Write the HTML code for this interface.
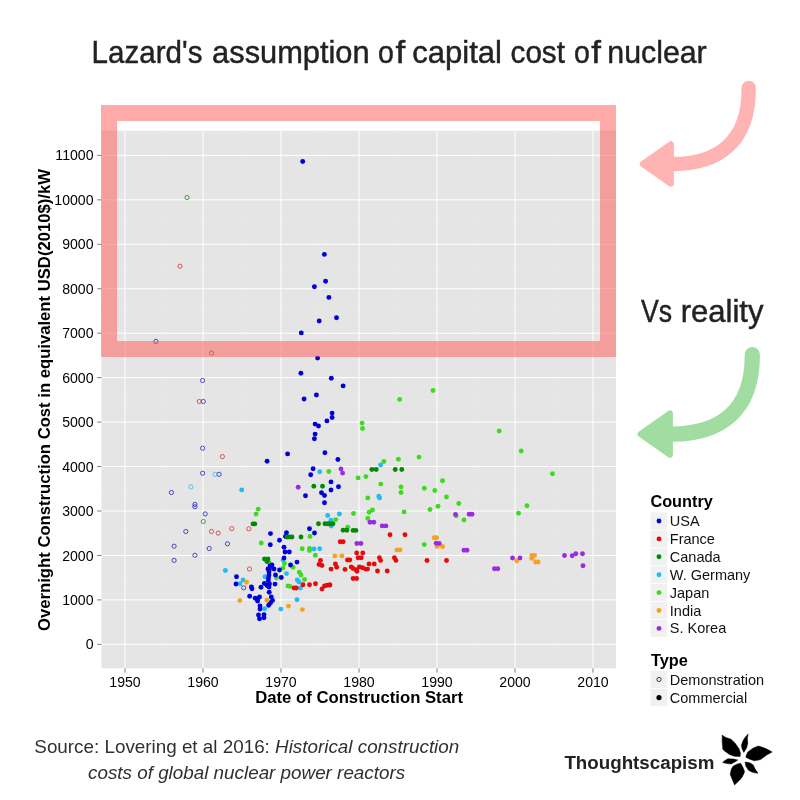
<!DOCTYPE html>
<html><head><meta charset="utf-8"><title>Nuclear capital cost</title>
<style>
html,body{margin:0;padding:0;background:#fff;}
body{width:800px;height:800px;overflow:hidden;font-family:"Liberation Sans",sans-serif;}
svg{display:block;will-change:transform;}
text{font-family:"Liberation Sans",sans-serif;}
</style></head><body>
<svg width="800" height="800" viewBox="0 0 800 800">
<rect width="800" height="800" fill="#fff"/>
<g fill="#222" stroke="#222" stroke-width="0.45" font-size="31.5">
<text transform="translate(91.62,63.2) scale(0.9391,1)">Lazard&#39;s</text>
<text transform="translate(212.12,63.2) scale(0.9781,1)">assumption</text>
<text transform="translate(378.09,63.2) scale(0.9062,1)">o</text>
<text transform="translate(395.40,63.2) scale(1.1111,1)">f</text>
<text transform="translate(412.21,63.2) scale(0.9857,1)">capital</text>
<text transform="translate(510.56,63.2) scale(0.9418,1)">cost</text>
<text transform="translate(573.89,63.2) scale(0.9062,1)">o</text>
<text transform="translate(591.20,63.2) scale(1.1111,1)">f</text>
<text transform="translate(607.27,63.2) scale(0.9631,1)">nuclear</text>
<text transform="translate(640.90,322.3) scale(0.8470,1)">Vs</text>
<text transform="translate(680.63,322.3) scale(0.9869,1)">reality</text>
</g>
<rect x="101.5" y="130.8" width="514.5" height="537.5" fill="#E5E5E5"/>
<g stroke="#E8E8E8" stroke-width="0.6">
<line x1="164.00" x2="164.00" y1="130.8" y2="668.3"/>
<line x1="242.00" x2="242.00" y1="130.8" y2="668.3"/>
<line x1="320.00" x2="320.00" y1="130.8" y2="668.3"/>
<line x1="398.00" x2="398.00" y1="130.8" y2="668.3"/>
<line x1="476.00" x2="476.00" y1="130.8" y2="668.3"/>
<line x1="554.00" x2="554.00" y1="130.8" y2="668.3"/>
<line x1="101.5" x2="616" y1="622.12" y2="622.12"/>
<line x1="101.5" x2="616" y1="577.67" y2="577.67"/>
<line x1="101.5" x2="616" y1="533.23" y2="533.23"/>
<line x1="101.5" x2="616" y1="488.77" y2="488.77"/>
<line x1="101.5" x2="616" y1="444.33" y2="444.33"/>
<line x1="101.5" x2="616" y1="399.88" y2="399.88"/>
<line x1="101.5" x2="616" y1="355.43" y2="355.43"/>
<line x1="101.5" x2="616" y1="310.98" y2="310.98"/>
<line x1="101.5" x2="616" y1="266.52" y2="266.52"/>
<line x1="101.5" x2="616" y1="222.07" y2="222.07"/>
<line x1="101.5" x2="616" y1="177.62" y2="177.62"/>
<line x1="101.5" x2="616" y1="133.18" y2="133.18"/>
</g>
<g stroke="#FFFFFF" stroke-width="1.0">
<line x1="125.00" x2="125.00" y1="130.8" y2="668.3"/>
<line x1="203.00" x2="203.00" y1="130.8" y2="668.3"/>
<line x1="281.00" x2="281.00" y1="130.8" y2="668.3"/>
<line x1="359.00" x2="359.00" y1="130.8" y2="668.3"/>
<line x1="437.00" x2="437.00" y1="130.8" y2="668.3"/>
<line x1="515.00" x2="515.00" y1="130.8" y2="668.3"/>
<line x1="593.00" x2="593.00" y1="130.8" y2="668.3"/>
<line x1="101.5" x2="616" y1="644.35" y2="644.35"/>
<line x1="101.5" x2="616" y1="599.90" y2="599.90"/>
<line x1="101.5" x2="616" y1="555.45" y2="555.45"/>
<line x1="101.5" x2="616" y1="511.00" y2="511.00"/>
<line x1="101.5" x2="616" y1="466.55" y2="466.55"/>
<line x1="101.5" x2="616" y1="422.10" y2="422.10"/>
<line x1="101.5" x2="616" y1="377.65" y2="377.65"/>
<line x1="101.5" x2="616" y1="333.20" y2="333.20"/>
<line x1="101.5" x2="616" y1="288.75" y2="288.75"/>
<line x1="101.5" x2="616" y1="244.30" y2="244.30"/>
<line x1="101.5" x2="616" y1="199.85" y2="199.85"/>
<line x1="101.5" x2="616" y1="155.40" y2="155.40"/>
</g>
<g stroke="#666" stroke-width="0.85">
<line x1="125.00" x2="125.00" y1="668.3" y2="672.5999999999999"/>
<line x1="203.00" x2="203.00" y1="668.3" y2="672.5999999999999"/>
<line x1="281.00" x2="281.00" y1="668.3" y2="672.5999999999999"/>
<line x1="359.00" x2="359.00" y1="668.3" y2="672.5999999999999"/>
<line x1="437.00" x2="437.00" y1="668.3" y2="672.5999999999999"/>
<line x1="515.00" x2="515.00" y1="668.3" y2="672.5999999999999"/>
<line x1="593.00" x2="593.00" y1="668.3" y2="672.5999999999999"/>
<line x1="97.2" x2="101.5" y1="644.35" y2="644.35"/>
<line x1="97.2" x2="101.5" y1="599.90" y2="599.90"/>
<line x1="97.2" x2="101.5" y1="555.45" y2="555.45"/>
<line x1="97.2" x2="101.5" y1="511.00" y2="511.00"/>
<line x1="97.2" x2="101.5" y1="466.55" y2="466.55"/>
<line x1="97.2" x2="101.5" y1="422.10" y2="422.10"/>
<line x1="97.2" x2="101.5" y1="377.65" y2="377.65"/>
<line x1="97.2" x2="101.5" y1="333.20" y2="333.20"/>
<line x1="97.2" x2="101.5" y1="288.75" y2="288.75"/>
<line x1="97.2" x2="101.5" y1="244.30" y2="244.30"/>
<line x1="97.2" x2="101.5" y1="199.85" y2="199.85"/>
<line x1="97.2" x2="101.5" y1="155.40" y2="155.40"/>
</g>
<g fill="#000" font-size="14.1">
<text x="125.00" y="686.6" text-anchor="middle">1950</text>
<text x="203.00" y="686.6" text-anchor="middle">1960</text>
<text x="281.00" y="686.6" text-anchor="middle">1970</text>
<text x="359.00" y="686.6" text-anchor="middle">1980</text>
<text x="437.00" y="686.6" text-anchor="middle">1990</text>
<text x="515.00" y="686.6" text-anchor="middle">2000</text>
<text x="593.00" y="686.6" text-anchor="middle">2010</text>
<text x="93.5" y="649.40" text-anchor="end">0</text>
<text x="93.5" y="604.95" text-anchor="end">1000</text>
<text x="93.5" y="560.50" text-anchor="end">2000</text>
<text x="93.5" y="516.05" text-anchor="end">3000</text>
<text x="93.5" y="471.60" text-anchor="end">4000</text>
<text x="93.5" y="427.15" text-anchor="end">5000</text>
<text x="93.5" y="382.70" text-anchor="end">6000</text>
<text x="93.5" y="338.25" text-anchor="end">7000</text>
<text x="93.5" y="293.80" text-anchor="end">8000</text>
<text x="93.5" y="249.35" text-anchor="end">9000</text>
<text x="93.5" y="204.90" text-anchor="end">10000</text>
<text x="93.5" y="160.45" text-anchor="end">11000</text>
</g>
<text x="359.1" y="702.6" text-anchor="middle" font-size="16.72" font-weight="bold" fill="#000">Date of Construction Start</text>
<text transform="translate(50.4,400.0) rotate(-90)" text-anchor="middle" font-size="16.67" font-weight="bold" fill="#000">Overnight Construction Cost in equivalent USD(2010$)/kW</text>
<g stroke="none">
<g fill="#3DDA1F">
<circle cx="258.2" cy="509.1" r="2.45"/>
<circle cx="256.1" cy="514.0" r="2.45"/>
<circle cx="261.3" cy="543.0" r="2.45"/>
<circle cx="269.0" cy="562.5" r="2.45"/>
<circle cx="276.5" cy="577.7" r="2.45"/>
<circle cx="284.5" cy="563.5" r="2.45"/>
<circle cx="283.0" cy="568.0" r="2.45"/>
<circle cx="293.0" cy="567.2" r="2.45"/>
<circle cx="299.3" cy="572.3" r="2.45"/>
<circle cx="301.0" cy="575.0" r="2.45"/>
<circle cx="304.5" cy="579.5" r="2.45"/>
<circle cx="288.0" cy="585.9" r="2.45"/>
<circle cx="290.0" cy="586.4" r="2.45"/>
<circle cx="399.6" cy="399.4" r="2.45"/>
<circle cx="362.1" cy="423.1" r="2.45"/>
<circle cx="362.5" cy="428.5" r="2.45"/>
<circle cx="419.0" cy="457.1" r="2.45"/>
<circle cx="398.4" cy="459.2" r="2.45"/>
<circle cx="383.9" cy="461.5" r="2.45"/>
<circle cx="328.8" cy="471.5" r="2.45"/>
<circle cx="358.1" cy="477.9" r="2.45"/>
<circle cx="365.9" cy="476.6" r="2.45"/>
<circle cx="380.8" cy="484.1" r="2.45"/>
<circle cx="401.0" cy="486.9" r="2.45"/>
<circle cx="401.0" cy="492.5" r="2.45"/>
<circle cx="424.3" cy="488.3" r="2.45"/>
<circle cx="367.8" cy="497.9" r="2.45"/>
<circle cx="372.5" cy="510.0" r="2.45"/>
<circle cx="369.1" cy="512.2" r="2.45"/>
<circle cx="367.8" cy="518.5" r="2.45"/>
<circle cx="404.1" cy="511.9" r="2.45"/>
<circle cx="430.0" cy="509.5" r="2.45"/>
<circle cx="353.5" cy="513.5" r="2.45"/>
<circle cx="335.8" cy="519.6" r="2.45"/>
<circle cx="347.7" cy="527.3" r="2.45"/>
<circle cx="310.0" cy="536.5" r="2.45"/>
<circle cx="302.2" cy="548.8" r="2.45"/>
<circle cx="309.5" cy="548.5" r="2.45"/>
<circle cx="309.5" cy="550.5" r="2.45"/>
<circle cx="315.3" cy="555.3" r="2.45"/>
<circle cx="433.0" cy="390.5" r="2.45"/>
<circle cx="499.2" cy="431.0" r="2.45"/>
<circle cx="521.2" cy="451.0" r="2.45"/>
<circle cx="552.5" cy="473.8" r="2.45"/>
<circle cx="442.5" cy="480.8" r="2.45"/>
<circle cx="434.8" cy="490.5" r="2.45"/>
<circle cx="446.5" cy="497.0" r="2.45"/>
<circle cx="458.8" cy="503.5" r="2.45"/>
<circle cx="438.0" cy="506.2" r="2.45"/>
<circle cx="527.0" cy="505.8" r="2.45"/>
<circle cx="518.5" cy="513.2" r="2.45"/>
<circle cx="464.0" cy="520.0" r="2.45"/>
<circle cx="456.2" cy="515.8" r="2.45"/>
<circle cx="424.3" cy="544.6" r="2.45"/>
</g>
<g fill="#1FBDF0">
<circle cx="241.7" cy="489.9" r="2.45"/>
<circle cx="225.4" cy="570.5" r="2.45"/>
<circle cx="243.0" cy="580.0" r="2.45"/>
<circle cx="240.0" cy="583.7" r="2.45"/>
<circle cx="264.6" cy="608.8" r="2.45"/>
<circle cx="265.0" cy="576.8" r="2.45"/>
<circle cx="283.0" cy="560.0" r="2.45"/>
<circle cx="286.5" cy="573.6" r="2.45"/>
<circle cx="297.3" cy="580.0" r="2.45"/>
<circle cx="299.0" cy="582.0" r="2.45"/>
<circle cx="297.0" cy="599.8" r="2.45"/>
<circle cx="280.8" cy="609.1" r="2.45"/>
<circle cx="380.6" cy="465.0" r="2.45"/>
<circle cx="319.7" cy="471.7" r="2.45"/>
<circle cx="378.8" cy="496.2" r="2.45"/>
<circle cx="379.6" cy="498.1" r="2.45"/>
<circle cx="339.4" cy="514.0" r="2.45"/>
<circle cx="327.7" cy="515.5" r="2.45"/>
<circle cx="331.0" cy="520.3" r="2.45"/>
<circle cx="331.2" cy="526.1" r="2.45"/>
<circle cx="314.0" cy="549.0" r="2.45"/>
<circle cx="319.7" cy="548.7" r="2.45"/>
<circle cx="300.4" cy="588.0" r="2.45"/>
</g>
<g fill="#0000DA">
<circle cx="302.7" cy="161.5" r="2.45"/>
<circle cx="324.4" cy="254.4" r="2.45"/>
<circle cx="325.6" cy="281.3" r="2.45"/>
<circle cx="314.4" cy="286.7" r="2.45"/>
<circle cx="328.9" cy="297.4" r="2.45"/>
<circle cx="336.5" cy="317.7" r="2.45"/>
<circle cx="319.2" cy="321.0" r="2.45"/>
<circle cx="301.3" cy="332.9" r="2.45"/>
<circle cx="317.6" cy="358.1" r="2.45"/>
<circle cx="300.9" cy="373.3" r="2.45"/>
<circle cx="331.3" cy="378.2" r="2.45"/>
<circle cx="343.1" cy="385.9" r="2.45"/>
<circle cx="316.4" cy="395.0" r="2.45"/>
<circle cx="304.1" cy="399.0" r="2.45"/>
<circle cx="332.1" cy="413.1" r="2.45"/>
<circle cx="332.1" cy="417.5" r="2.45"/>
<circle cx="326.9" cy="420.9" r="2.45"/>
<circle cx="315.1" cy="424.1" r="2.45"/>
<circle cx="318.5" cy="426.0" r="2.45"/>
<circle cx="315.1" cy="434.1" r="2.45"/>
<circle cx="314.4" cy="438.8" r="2.45"/>
<circle cx="287.6" cy="453.9" r="2.45"/>
<circle cx="324.9" cy="452.8" r="2.45"/>
<circle cx="267.1" cy="461.3" r="2.45"/>
<circle cx="337.9" cy="459.5" r="2.45"/>
<circle cx="313.1" cy="468.7" r="2.45"/>
<circle cx="310.7" cy="474.8" r="2.45"/>
<circle cx="331.0" cy="481.9" r="2.45"/>
<circle cx="338.5" cy="486.7" r="2.45"/>
<circle cx="331.0" cy="490.0" r="2.45"/>
<circle cx="305.5" cy="495.7" r="2.45"/>
<circle cx="321.5" cy="492.8" r="2.45"/>
<circle cx="324.5" cy="495.5" r="2.45"/>
<circle cx="324.5" cy="502.7" r="2.45"/>
<circle cx="309.5" cy="528.8" r="2.45"/>
<circle cx="286.5" cy="532.8" r="2.45"/>
<circle cx="314.5" cy="533.0" r="2.45"/>
<circle cx="270.5" cy="533.6" r="2.45"/>
<circle cx="285.5" cy="536.5" r="2.45"/>
<circle cx="279.5" cy="540.2" r="2.45"/>
<circle cx="270.3" cy="544.8" r="2.45"/>
<circle cx="284.0" cy="547.2" r="2.45"/>
<circle cx="285.0" cy="552.0" r="2.45"/>
<circle cx="289.3" cy="552.0" r="2.45"/>
<circle cx="284.0" cy="558.0" r="2.45"/>
<circle cx="290.5" cy="565.0" r="2.45"/>
<circle cx="297.0" cy="562.1" r="2.45"/>
<circle cx="236.5" cy="576.8" r="2.45"/>
<circle cx="236.0" cy="584.0" r="2.45"/>
<circle cx="251.4" cy="586.9" r="2.45"/>
<circle cx="252.0" cy="588.7" r="2.45"/>
<circle cx="249.7" cy="596.2" r="2.45"/>
<circle cx="255.2" cy="598.2" r="2.45"/>
<circle cx="257.6" cy="599.1" r="2.45"/>
<circle cx="259.5" cy="597.0" r="2.45"/>
<circle cx="257.6" cy="601.0" r="2.45"/>
<circle cx="260.0" cy="606.0" r="2.45"/>
<circle cx="260.0" cy="609.0" r="2.45"/>
<circle cx="258.5" cy="615.0" r="2.45"/>
<circle cx="264.0" cy="614.6" r="2.45"/>
<circle cx="259.5" cy="618.8" r="2.45"/>
<circle cx="264.0" cy="617.8" r="2.45"/>
<circle cx="269.2" cy="592.3" r="2.45"/>
<circle cx="271.3" cy="597.0" r="2.45"/>
<circle cx="272.5" cy="600.4" r="2.45"/>
<circle cx="270.6" cy="602.8" r="2.45"/>
<circle cx="268.7" cy="605.3" r="2.45"/>
<circle cx="261.0" cy="587.3" r="2.45"/>
<circle cx="264.4" cy="583.5" r="2.45"/>
<circle cx="267.0" cy="585.5" r="2.45"/>
<circle cx="269.5" cy="583.9" r="2.45"/>
<circle cx="269.0" cy="587.0" r="2.45"/>
<circle cx="275.0" cy="584.1" r="2.45"/>
<circle cx="270.0" cy="566.0" r="2.45"/>
<circle cx="269.5" cy="569.0" r="2.45"/>
<circle cx="269.0" cy="572.0" r="2.45"/>
<circle cx="269.0" cy="575.0" r="2.45"/>
<circle cx="268.5" cy="578.0" r="2.45"/>
<circle cx="268.3" cy="580.8" r="2.45"/>
<circle cx="272.0" cy="565.0" r="2.45"/>
<circle cx="274.0" cy="569.0" r="2.45"/>
<circle cx="268.0" cy="569.0" r="2.45"/>
<circle cx="275.5" cy="575.0" r="2.45"/>
<circle cx="281.3" cy="577.5" r="2.45"/>
<circle cx="279.5" cy="570.0" r="2.45"/>
</g>
<g fill="#008B00">
<circle cx="371.9" cy="469.5" r="2.45"/>
<circle cx="376.2" cy="469.5" r="2.45"/>
<circle cx="395.2" cy="469.5" r="2.45"/>
<circle cx="401.8" cy="469.5" r="2.45"/>
<circle cx="313.8" cy="486.3" r="2.45"/>
<circle cx="322.5" cy="486.3" r="2.45"/>
<circle cx="318.5" cy="523.8" r="2.45"/>
<circle cx="325.0" cy="523.8" r="2.45"/>
<circle cx="328.0" cy="523.8" r="2.45"/>
<circle cx="330.5" cy="523.8" r="2.45"/>
<circle cx="333.0" cy="523.8" r="2.45"/>
<circle cx="343.1" cy="530.3" r="2.45"/>
<circle cx="346.8" cy="530.3" r="2.45"/>
<circle cx="353.1" cy="530.4" r="2.45"/>
<circle cx="355.9" cy="530.4" r="2.45"/>
<circle cx="253.0" cy="523.9" r="2.45"/>
<circle cx="254.8" cy="523.9" r="2.45"/>
<circle cx="287.0" cy="537.0" r="2.45"/>
<circle cx="289.5" cy="537.0" r="2.45"/>
<circle cx="292.0" cy="537.0" r="2.45"/>
<circle cx="301.0" cy="537.0" r="2.45"/>
<circle cx="264.5" cy="559.0" r="2.45"/>
<circle cx="268.0" cy="559.0" r="2.45"/>
<circle cx="267.0" cy="561.5" r="2.45"/>
</g>
<g fill="#E60A0A">
<circle cx="390.0" cy="534.7" r="2.45"/>
<circle cx="405.0" cy="534.7" r="2.45"/>
<circle cx="340.2" cy="541.7" r="2.45"/>
<circle cx="343.1" cy="541.7" r="2.45"/>
<circle cx="356.7" cy="553.0" r="2.45"/>
<circle cx="362.8" cy="553.0" r="2.45"/>
<circle cx="358.1" cy="557.8" r="2.45"/>
<circle cx="361.2" cy="557.8" r="2.45"/>
<circle cx="347.5" cy="560.0" r="2.45"/>
<circle cx="349.8" cy="560.0" r="2.45"/>
<circle cx="379.4" cy="557.8" r="2.45"/>
<circle cx="380.6" cy="560.4" r="2.45"/>
<circle cx="394.4" cy="557.8" r="2.45"/>
<circle cx="395.9" cy="560.4" r="2.45"/>
<circle cx="427.0" cy="560.5" r="2.45"/>
<circle cx="446.5" cy="560.5" r="2.45"/>
<circle cx="335.4" cy="564.0" r="2.45"/>
<circle cx="336.7" cy="567.3" r="2.45"/>
<circle cx="331.0" cy="569.1" r="2.45"/>
<circle cx="369.0" cy="564.0" r="2.45"/>
<circle cx="374.2" cy="564.0" r="2.45"/>
<circle cx="345.0" cy="569.4" r="2.45"/>
<circle cx="351.2" cy="566.9" r="2.45"/>
<circle cx="353.1" cy="568.5" r="2.45"/>
<circle cx="356.2" cy="569.8" r="2.45"/>
<circle cx="359.4" cy="566.9" r="2.45"/>
<circle cx="362.5" cy="567.8" r="2.45"/>
<circle cx="365.6" cy="569.1" r="2.45"/>
<circle cx="367.5" cy="569.1" r="2.45"/>
<circle cx="356.9" cy="571.2" r="2.45"/>
<circle cx="377.5" cy="571.0" r="2.45"/>
<circle cx="387.2" cy="571.0" r="2.45"/>
<circle cx="353.1" cy="578.5" r="2.45"/>
<circle cx="356.6" cy="578.5" r="2.45"/>
<circle cx="330.0" cy="585.0" r="2.45"/>
<circle cx="320.5" cy="560.5" r="2.45"/>
<circle cx="319.0" cy="564.5" r="2.45"/>
<circle cx="322.0" cy="565.5" r="2.45"/>
<circle cx="294.0" cy="588.0" r="2.45"/>
<circle cx="296.2" cy="588.0" r="2.45"/>
<circle cx="303.0" cy="584.7" r="2.45"/>
<circle cx="309.5" cy="584.8" r="2.45"/>
<circle cx="315.5" cy="583.8" r="2.45"/>
<circle cx="322.0" cy="589.0" r="2.45"/>
<circle cx="324.5" cy="586.0" r="2.45"/>
<circle cx="327.0" cy="585.2" r="2.45"/>
<circle cx="329.5" cy="585.0" r="2.45"/>
</g>
<g fill="#F5A21E">
<circle cx="246.6" cy="582.3" r="2.45"/>
<circle cx="239.8" cy="600.6" r="2.45"/>
<circle cx="267.0" cy="600.3" r="2.45"/>
<circle cx="288.5" cy="606.1" r="2.45"/>
<circle cx="302.4" cy="609.6" r="2.45"/>
<circle cx="334.8" cy="555.9" r="2.45"/>
<circle cx="341.9" cy="555.9" r="2.45"/>
<circle cx="396.9" cy="550.0" r="2.45"/>
<circle cx="400.0" cy="550.0" r="2.45"/>
<circle cx="434.2" cy="537.8" r="2.45"/>
<circle cx="436.5" cy="537.8" r="2.45"/>
<circle cx="437.2" cy="546.5" r="2.45"/>
<circle cx="442.5" cy="546.5" r="2.45"/>
<circle cx="516.8" cy="560.8" r="2.45"/>
<circle cx="531.8" cy="555.5" r="2.45"/>
<circle cx="534.5" cy="555.5" r="2.45"/>
<circle cx="531.8" cy="558.2" r="2.45"/>
<circle cx="535.5" cy="562.0" r="2.45"/>
<circle cx="538.2" cy="562.0" r="2.45"/>
</g>
<g fill="#9A2BE2">
<circle cx="298.2" cy="487.3" r="2.45"/>
<circle cx="341.0" cy="469.0" r="2.45"/>
<circle cx="342.6" cy="473.1" r="2.45"/>
<circle cx="370.0" cy="522.2" r="2.45"/>
<circle cx="373.8" cy="522.2" r="2.45"/>
<circle cx="382.2" cy="525.9" r="2.45"/>
<circle cx="385.9" cy="525.9" r="2.45"/>
<circle cx="356.9" cy="543.5" r="2.45"/>
<circle cx="360.9" cy="543.5" r="2.45"/>
<circle cx="455.5" cy="514.5" r="2.45"/>
<circle cx="469.2" cy="514.2" r="2.45"/>
<circle cx="472.0" cy="514.2" r="2.45"/>
<circle cx="436.2" cy="543.2" r="2.45"/>
<circle cx="439.2" cy="543.5" r="2.45"/>
<circle cx="464.0" cy="550.2" r="2.45"/>
<circle cx="467.0" cy="550.2" r="2.45"/>
<circle cx="512.5" cy="558.0" r="2.45"/>
<circle cx="520.0" cy="558.0" r="2.45"/>
<circle cx="564.5" cy="555.5" r="2.45"/>
<circle cx="572.2" cy="555.8" r="2.45"/>
<circle cx="575.8" cy="553.8" r="2.45"/>
<circle cx="582.5" cy="553.8" r="2.45"/>
<circle cx="583.0" cy="565.8" r="2.45"/>
<circle cx="494.5" cy="568.8" r="2.45"/>
<circle cx="497.8" cy="568.8" r="2.45"/>
</g>
</g>
<g fill="none" stroke-width="0.72">
<g stroke="#1010B8">
<circle cx="155.9" cy="341.4" r="2.1"/>
<circle cx="202.6" cy="380.5" r="2.1"/>
<circle cx="203.3" cy="401.5" r="2.1"/>
<circle cx="202.6" cy="448.2" r="2.1"/>
<circle cx="202.6" cy="473.2" r="2.1"/>
<circle cx="219.1" cy="474.3" r="2.1"/>
<circle cx="171.4" cy="492.5" r="2.1"/>
<circle cx="194.9" cy="504.4" r="2.1"/>
<circle cx="194.9" cy="506.7" r="2.1"/>
<circle cx="205.2" cy="513.9" r="2.1"/>
<circle cx="185.8" cy="531.5" r="2.1"/>
<circle cx="227.5" cy="543.8" r="2.1"/>
<circle cx="174.1" cy="546.2" r="2.1"/>
<circle cx="209.2" cy="548.5" r="2.1"/>
<circle cx="194.9" cy="555.3" r="2.1"/>
<circle cx="174.1" cy="560.4" r="2.1"/>
<circle cx="243.7" cy="587.8" r="2.1"/>
</g>
<g stroke="#D42020">
<circle cx="180.0" cy="266.2" r="2.1"/>
<circle cx="199.3" cy="401.5" r="2.1"/>
<circle cx="222.4" cy="456.6" r="2.1"/>
<circle cx="211.5" cy="531.5" r="2.1"/>
<circle cx="218.2" cy="533.1" r="2.1"/>
<circle cx="231.8" cy="528.6" r="2.1"/>
<circle cx="248.9" cy="528.8" r="2.1"/>
<circle cx="249.5" cy="569.0" r="2.1"/>
</g>
<g stroke="#0A7F0A">
<circle cx="187.0" cy="197.5" r="2.1"/>
<circle cx="211.5" cy="353.1" r="2.1"/>
<circle cx="203.3" cy="521.5" r="2.1"/>
</g>
<g stroke="#2AB6E8">
<circle cx="215.0" cy="474.3" r="2.1"/>
<circle cx="190.9" cy="486.9" r="2.1"/>
</g>
</g>
<rect x="109" y="113" width="499" height="236" fill="none" stroke="#FF5A5A" stroke-opacity="0.52" stroke-width="16"/>
<g fill="none" stroke="#FFB3B3" stroke-linecap="round" stroke-linejoin="round"><path d="M748.7 88.0 C 749.2 142.7, 717.3 164.0, 672.9 164.0" stroke-width="14.4"/><path d="M642.80 164.00 L670.90 144.25 L670.90 183.75 Z" fill="#FFB3B3" stroke-width="6.0"/></g>
<g fill="none" stroke="#A1DCA1" stroke-linecap="round" stroke-linejoin="round"><path d="M752.3 354.5 C 752.8 411.8, 719.0 434.1, 671.9 434.1" stroke-width="15.2"/><path d="M640.50 434.10 L669.90 413.45 L669.90 454.75 Z" fill="#A1DCA1" stroke-width="6.0"/></g>
<text x="650.4" y="507" font-size="16.3" font-weight="bold" fill="#000">Country</text>
<rect x="650.6" y="512.45" width="16.6" height="17.1" fill="#F1F1F1"/>
<circle cx="659" cy="521.00" r="2.45" fill="#0000DA"/>
<text x="669.8" y="526.00" font-size="14.5" fill="#111">USA</text>
<rect x="650.6" y="530.35" width="16.6" height="17.1" fill="#F1F1F1"/>
<circle cx="659" cy="538.90" r="2.45" fill="#E60A0A"/>
<text x="669.8" y="543.90" font-size="14.5" fill="#111">France</text>
<rect x="650.6" y="548.25" width="16.6" height="17.1" fill="#F1F1F1"/>
<circle cx="659" cy="556.80" r="2.45" fill="#008B00"/>
<text x="669.8" y="561.80" font-size="14.5" fill="#111">Canada</text>
<rect x="650.6" y="566.15" width="16.6" height="17.1" fill="#F1F1F1"/>
<circle cx="659" cy="574.70" r="2.45" fill="#1FBDF0"/>
<text x="669.8" y="579.70" font-size="14.5" fill="#111">W. Germany</text>
<rect x="650.6" y="584.05" width="16.6" height="17.1" fill="#F1F1F1"/>
<circle cx="659" cy="592.60" r="2.45" fill="#3DDA1F"/>
<text x="669.8" y="597.60" font-size="14.5" fill="#111">Japan</text>
<rect x="650.6" y="601.95" width="16.6" height="17.1" fill="#F1F1F1"/>
<circle cx="659" cy="610.50" r="2.45" fill="#F5A21E"/>
<text x="669.8" y="615.50" font-size="14.5" fill="#111">India</text>
<rect x="650.6" y="619.85" width="16.6" height="17.1" fill="#F1F1F1"/>
<circle cx="659" cy="628.40" r="2.45" fill="#9A2BE2"/>
<text x="669.8" y="633.40" font-size="14.5" fill="#111">S. Korea</text>
<text x="651.0" y="665.6" font-size="16.3" font-weight="bold" fill="#000">Type</text>
<rect x="650.6" y="670.95" width="16.6" height="17.1" fill="#F1F1F1"/>
<circle cx="659" cy="679.50" r="2.1" fill="none" stroke="#000" stroke-width="0.75"/>
<text x="669.8" y="684.50" font-size="14.5" fill="#111">Demonstration</text>
<rect x="650.6" y="689.05" width="16.6" height="17.1" fill="#F1F1F1"/>
<circle cx="659" cy="697.60" r="2.6" fill="#000"/>
<text x="669.8" y="702.60" font-size="14.5" fill="#111">Commercial</text>
<g font-size="18.83" fill="#303030">
<text x="246.8" y="753" text-anchor="middle">Source: Lovering et al 2016: <tspan font-style="italic">Historical construction</tspan></text>
<text x="246.6" y="778.5" text-anchor="middle" font-style="italic">costs of global nuclear power reactors</text>
</g>
<text x="564.4" y="768.7" font-size="18.75" font-weight="bold" fill="#222">Thoughtscapism</text>
<g transform="translate(715,728) scale(0.08)" fill="#000" stroke="#000" stroke-width="6" stroke-linejoin="round">
<path d="M90 88 Q125 122 200 140 Q255 180 300 260 Q328 312 315 355 Q250 365 180 330 Q105 280 98 265 Q85 170 90 88Z"/>
<path d="M415 75 Q395 130 410 190 Q405 250 360 305 Q335 272 330 215 Q345 140 415 75Z"/>
<path d="M715 300 Q640 250 540 225 Q465 245 410 300 Q390 335 385 365 Q430 392 490 410 Q530 405 570 395 Q640 335 715 300Z"/>
<path d="M375 425 Q440 425 478 462 Q500 520 537 565 Q470 568 418 528 Q378 485 375 425Z"/>
<path d="M320 440 Q355 490 370 545 Q350 620 290 670 Q265 695 245 712 Q215 640 190 580 Q200 500 230 475 Q270 445 320 440Z"/>
<path d="M285 400 Q230 383 160 385 Q120 405 95 432 Q150 445 200 450 Q250 428 285 400Z"/>
</g>
</svg>
</body></html>
